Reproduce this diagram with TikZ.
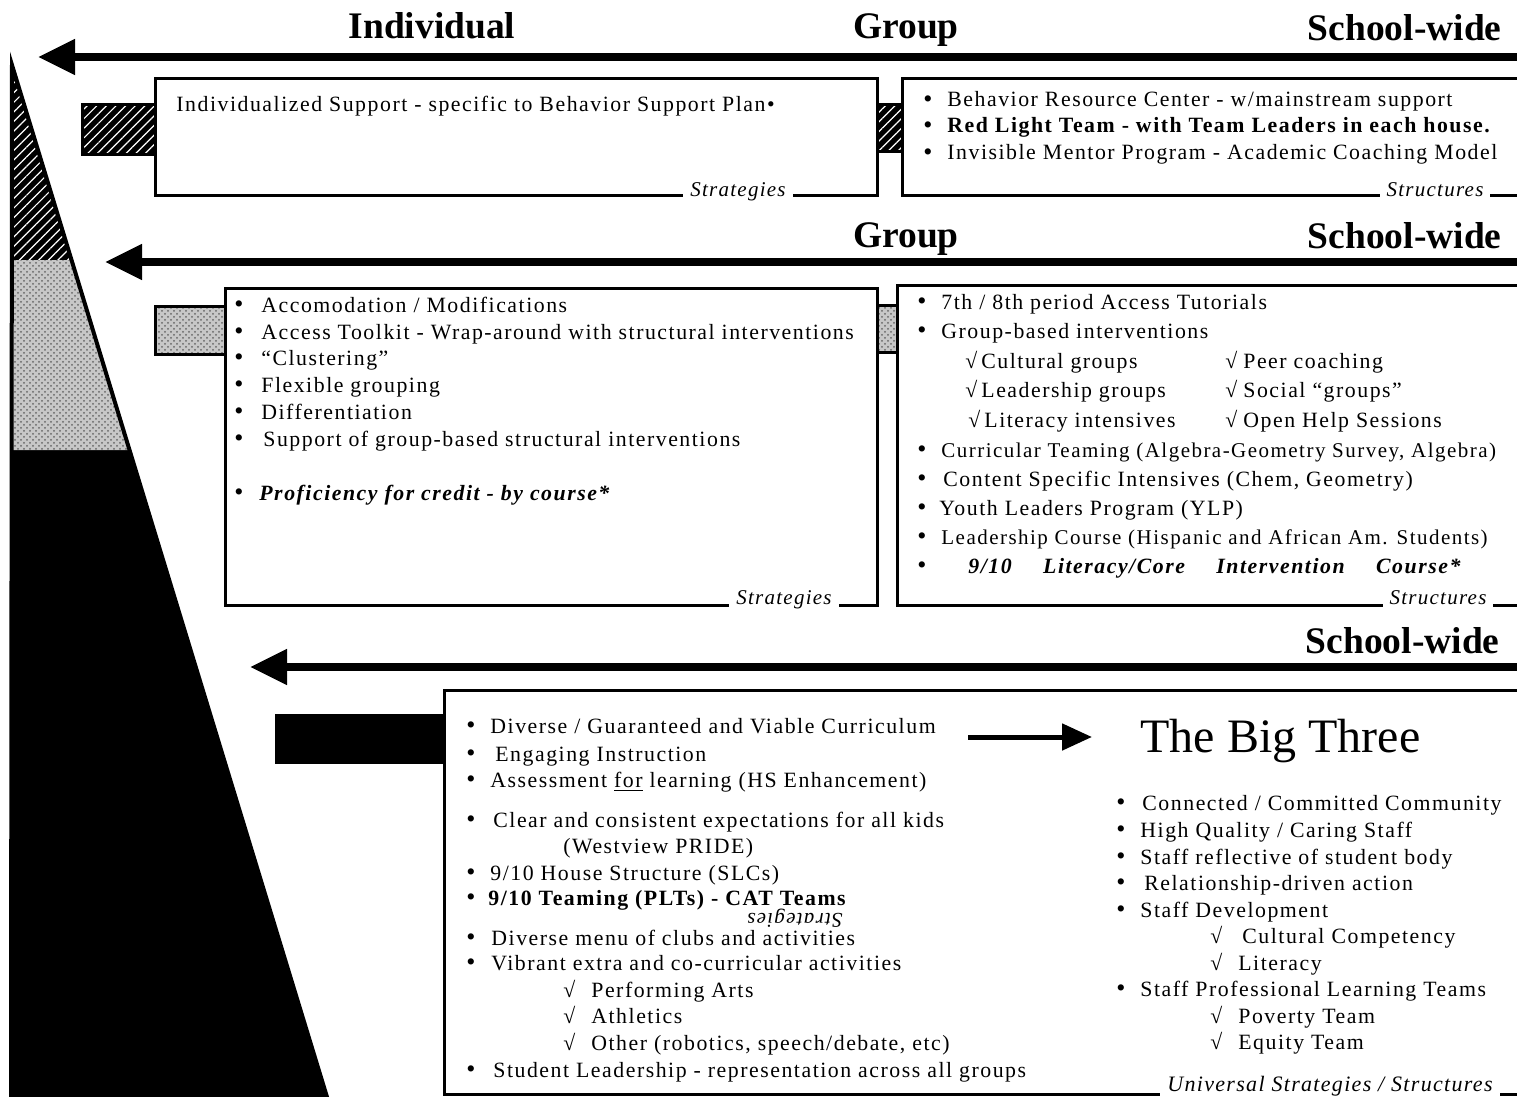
\documentclass[tikz,border=0pt]{standalone}
\usepackage{fontspec}
\setmainfont{Liberation Serif}
\newfontfamily\bodyf[LetterSpace=7]{Liberation Serif}
\newfontfamily\labf[LetterSpace=6]{Liberation Serif}
\newfontfamily\headf{Liberation Serif}
\usetikzlibrary{arrows.meta,patterns,patterns.meta}
\newcommand\bul[1]{\makebox[#1][l]{{\fontsize{13pt}{13pt}\selectfont\raisebox{-0.3pt}{•}}}}
\newcommand\chk[1]{\makebox[#1][l]{√}}
\begin{document}
\begin{tikzpicture}[x=0.5pt,y=-0.5pt,
  txt/.style={font=\bodyf\fontsize{10.9pt}{12pt}\selectfont, inner sep=0pt, anchor=west, text height=7pt, text depth=2pt, yshift=-1pt},
  head/.style={font=\headf\bfseries\fontsize{18.75pt}{20pt}\selectfont, inner sep=0pt},
  lab/.style={font=\labf\itshape\fontsize{10.5pt}{12pt}\selectfont, fill=white, anchor=base, inner xsep=3.5pt, inner ysep=1pt, text depth=3pt},
  boxline/.style={line width=1.5pt},
  hatchfill/.style={preaction={fill=black}, pattern={Lines[angle=45,distance=3.4pt,line width=0.6pt]}, pattern color=white},
  stipfill/.style={preaction={fill=black!22}, pattern=crosshatch dots, pattern color=black!60},
  bigarrow/.style={line width=4pt, -{Triangle[length=18.5pt,width=17pt]}}
]
\path[use as bounding box] (0,0) rectangle (1517,1097);
\clip (0,0) rectangle (1517,1097);
\fill[white] (0,0) rectangle (1517,1097);

% left triangle
\fill[black] (12,65) -- (327,1097) -- (11,1097) -- cycle;
\fill[hatchfill] (12,65) -- (71.5,260) -- (11,260) -- cycle;
\fill[stipfill] (11,260) -- (71.5,260) -- (129.5,450) -- (11,450) -- cycle;
\draw[line width=2pt] (12,65) -- (327,1097) -- (11,1097) -- cycle;

% headers
\node[head, anchor=base] (hInd) at (432,39) {Individual};
\node[head, anchor=base] (hGrp1) at (906,39) {Group};
\node[head, anchor=base east] (hSch1) at (1502,41) {School-wide};
\node[head, anchor=base] (hGrp2) at (906,248) {Group};
\node[head, anchor=base east] (hSch2) at (1502,249) {School-wide};
\node[head, anchor=base east] (hSch3) at (1500,653) {School-wide};

% arrows
\coordinate (a1s) at (1517,57); \coordinate (a1e) at (38,57);
\coordinate (a2s) at (1517,262); \coordinate (a2e) at (105,262);
\coordinate (a3s) at (1517,667); \coordinate (a3e) at (250,667);
\draw[bigarrow] (a1s) -- (a1e);
\draw[bigarrow] (a2s) -- (a2e);
\draw[bigarrow] (a3s) -- (a3e);

% boxes
\draw[boxline] (155,79) rectangle (877,196);
\draw[boxline] (1520,79) -- (902,79) -- (902,196) -- (1520,196);
\draw[boxline] (225,288) rectangle (877,605);
\draw[boxline] (1520,285) -- (897,285) -- (897,605) -- (1520,605);
\draw[boxline] (1520,690) -- (444,690) -- (444,1094) -- (1520,1094);

% connector blocks
\draw[hatchfill, line width=1.5pt] (82,105) rectangle (155,155);
\draw[hatchfill, line width=1.5pt] (877,105) rectangle (902,152);
\draw[stipfill, line width=1.5pt] (155,306) rectangle (225,354);
\draw[stipfill, line width=1.5pt] (877,305) rectangle (897,352);
\fill[black] (275,714) rectangle (444,764);

% box labels
\node[lab] (labA) at (738,197) {Strategies};
\node[lab] (labB) at (1435,197) {Structures};
\node[lab] (labC) at (784,604) {Strategies};
\node[lab] (labD) at (1438,604) {Structures};

% box A
\node[txt] (a1) at (176,105) {Individualized Support - specific to Behavior Support Plan•};

% box B
\node[txt] (b1) at (923,100) {\bul{12pt}Behavior Resource Center - w/mainstream support};
\node[txt] (b2) at (923,126) {\bul{12pt}\bfseries Red Light Team - with Team Leaders in each house.};
\node[txt] (b3) at (923,153) {\bul{12pt}Invisible Mentor Program - Academic Coaching Model};

% box C
\node[txt] (c1) at (234,305) {\bul{13.5pt}Accomodation / Modifications};
\node[txt] (c2) at (234,332) {\bul{13.5pt}Access Toolkit - Wrap-around with structural interventions};
\node[txt] (c3) at (234,358) {\bul{13.5pt}“Clustering”};
\node[txt] (c4) at (234,385) {\bul{13.5pt}Flexible grouping};
\node[txt] (c5) at (234,412) {\bul{13.5pt}Differentiation};
\node[txt] (c6) at (234,439) {\bul{14.5pt}Support of group-based structural interventions};
\node[txt] (c7) at (234,493) {\bul{12.5pt}\bfseries\itshape Proficiency for credit - by course*};

% box D
\node[txt] (d1) at (917,302) {\bul{12pt}7th / 8th period Access Tutorials};
\node[txt] (d2) at (917,331) {\bul{12pt}Group-based interventions};
\node[txt] (d3) at (965,361) {\chk{8pt}Cultural groups};
\node[txt] (d4) at (1225,361) {\chk{9pt}Peer coaching};
\node[txt] (d5) at (965,390) {\chk{8pt}Leadership groups};
\node[txt] (d6) at (1225,390) {\chk{9pt}Social “groups”};
\node[txt] (d7) at (968,420) {\chk{8pt}Literacy intensives};
\node[txt] (d8) at (1225,420) {\chk{9pt}Open Help Sessions};
\node[txt, font=\bodyf\fontsize{10.5pt}{12pt}\selectfont] (d9) at (917,450) {\bul{12pt}Curricular Teaming (Algebra-Geometry Survey, Algebra)};
\node[txt] (d10) at (917,479) {\bul{13pt}Content Specific Intensives (Chem, Geometry)};
\node[txt] (d11) at (917,508) {\bul{11pt}Youth Leaders Program (YLP)};
\node[txt, font=\bodyf\fontsize{10.5pt}{12pt}\selectfont] (d12) at (917,537) {\bul{12pt}Leadership Course (Hispanic and African Am. Students)};
\node[txt] (d13) at (917,566) {\bul{6pt}};
\node[txt] (d13b) at (968,566) {\bfseries\itshape\makebox[246pt][s]{9/10 Literacy/Core Intervention Course*}};

% box E
\node[txt] (e1) at (466,726) {\bul{12pt}Diverse / Guaranteed and Viable Curriculum};
\node[txt] (e2) at (466,754) {\bul{14.5pt}Engaging Instruction};
\node[txt] (e3) at (466,780) {\bul{12pt}Assessment \underline{for} learning (HS Enhancement)};
\node[txt] (e4) at (466,820) {\bul{13.5pt}Clear and consistent expectations for all kids};
\node[txt] (e5) at (563,846) {(Westview PRIDE)};
\node[txt] (e6) at (466,873) {\bul{12pt}9/10 House Structure (SLCs)};
\node[txt] (e7) at (466,898) {\bul{11pt}\bfseries 9/10 Teaming (PLTs) - CAT Teams};
\node[txt] (e9) at (466,938) {\bul{12.5pt}Diverse menu of clubs and activities};
\node[lab, anchor=center, rotate=180, inner ysep=0pt, text height=6pt, text depth=1.5pt] (e8) at (795,918) {Strategies};
\node[txt] (e10) at (466,963) {\bul{12.5pt}Vibrant extra and co-curricular activities};
\node[txt] (e11) at (563,990) {\chk{14pt}Performing Arts};
\node[txt] (e12) at (563,1016) {\chk{14pt}Athletics};
\node[txt] (e13) at (563,1043) {\chk{14pt}Other (robotics, speech/debate, etc)};
\node[txt] (e14) at (466,1070) {\bul{13.5pt}Student Leadership - representation across all groups};

% big three
\coordinate (bs) at (968,737); \coordinate (be) at (1092,737);
\draw[line width=2.5pt, -{Triangle[length=15pt,width=13pt]}] (bs) -- (be);
\node[anchor=base west, inner sep=0pt, font=\fontsize{24pt}{28pt}\selectfont] (big) at (1140,752) {The Big Three};

\node[txt] (f1) at (1116,803) {\bul{13pt}Connected / Committed Community};
\node[txt] (f2) at (1116,830) {\bul{12pt}High Quality / Caring Staff};
\node[txt] (f3) at (1116,857) {\bul{12pt}Staff reflective of student body};
\node[txt] (f4) at (1116,883) {\bul{14pt}Relationship-driven action};
\node[txt] (f5) at (1116,910) {\bul{12pt}Staff Development};
\node[txt] (f6) at (1210,936) {\chk{16pt}Cultural Competency};
\node[txt] (f7) at (1210,963) {\chk{14pt}Literacy};
\node[txt] (f8) at (1116,989) {\bul{12pt}Staff Professional Learning Teams};
\node[txt] (f9) at (1210,1016) {\chk{14pt}Poverty Team};
\node[txt] (f10) at (1210,1042) {\chk{14pt}Equity Team};

\node[lab, font=\labf\itshape\fontsize{11pt}{13pt}\selectfont, text depth=2pt, inner ysep=0.5pt] (labE) at (1330,1091) {Universal Strategies / Structures};
\end{tikzpicture}
\end{document}
